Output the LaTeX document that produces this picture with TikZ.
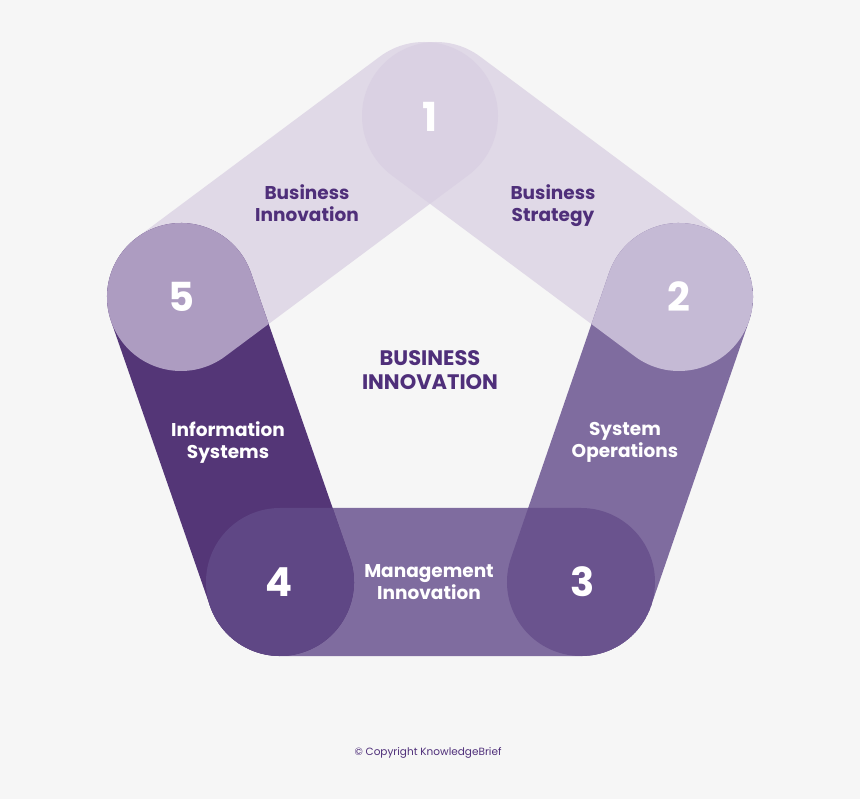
\documentclass[tikz,border=0pt]{standalone}
\usepackage{fontspec}
\setmainfont{Poppins}
\usetikzlibrary{calc}

\definecolor{bgcol}{HTML}{F6F6F6}
\definecolor{lightband}{HTML}{E0D9E7}
\definecolor{midband}{HTML}{7F6C9F}
\definecolor{darkband}{HTML}{543677}
\definecolor{ovone}{HTML}{DAD1E3}
\definecolor{ovtwo}{HTML}{C5BAD5}
\definecolor{ovthree}{HTML}{6A538E}
\definecolor{ovfour}{HTML}{5F4785}
\definecolor{ovfive}{HTML}{AD9CC1}
\definecolor{labcol}{HTML}{4F2F7A}

% half width of a band
\newcommand{\bandr}{74pt}
% closed outline of a band between two centres
\newcommand{\capsule}[2]{let \p1=($(#2)-(#1)$), \n1={atan2(\y1,\x1)} in
  ($(#1)+(\n1+90:\bandr)$) -- ($(#2)+(\n1+90:\bandr)$)
  arc[start angle=\n1+90, delta angle=-180, radius=\bandr]
  -- ($(#1)+(\n1-90:\bandr)$)
  arc[start angle=\n1-90, delta angle=-180, radius=\bandr] -- cycle}

\begin{document}
\begin{tikzpicture}[
        x=1pt, y=-1pt,
        label/.style={align=center, font=\bfseries\fontsize{18.5}{22}\selectfont, text=labcol,
            execute at begin node=\strut, execute at end node=\strut},
        wlabel/.style={label, text=white},
        num/.style={font=\bfseries\fontsize{40}{40}\selectfont, text=white},
        title/.style={align=center, font=\bfseries\fontsize{21}{23.5}\selectfont, text=labcol,
            execute at begin node=\strut, execute at end node=\strut},
        copy/.style={font=\fontsize{10.5}{12}\selectfont, text=labcol}
    ]
        \fill[bgcol] (0,0) rectangle (860,799);
        \useasboundingbox (0,0) rectangle (860,799);

        % Band centres
        \coordinate (v1) at (430,116);
        \coordinate (v1a) at (424,116);
        \coordinate (v1b) at (436,116);
        \coordinate (v2) at (679,297);
        \coordinate (v3) at (581,582);
        \coordinate (v4) at (280,582);
        \coordinate (v5) at (181,297);

        % Bands
        \fill[lightband] \capsule{v1b}{v2};
        \fill[lightband] \capsule{v5}{v1a};
        \fill[midband] \capsule{v2}{v3};
        \fill[midband] \capsule{v3}{v4};
        \fill[darkband] \capsule{v4}{v5};

        % Overlaps
        \begin{scope}
            \clip \capsule{v5}{v1a};
            \fill[ovone] \capsule{v1b}{v2};
        \end{scope}
        \begin{scope}
            \clip \capsule{v1b}{v2};
            \fill[ovtwo] \capsule{v2}{v3};
        \end{scope}
        \begin{scope}
            \clip \capsule{v2}{v3};
            \fill[ovthree] \capsule{v3}{v4};
        \end{scope}
        \begin{scope}
            \clip \capsule{v3}{v4};
            \fill[ovfour] \capsule{v4}{v5};
        \end{scope}
        \begin{scope}
            \clip \capsule{v4}{v5};
            \fill[ovfive] \capsule{v5}{v1a};
        \end{scope}

        % Numbers
        \node[num] (n1) at (430,117) {1};
        \node[num] (n2) at (679,297) {2};
        \node[num] (n3) at (583,582) {3};
        \node[num] (n4) at (279,582) {4};
        \node[num] (n5) at (181,297) {5};

        % Labels
        \node[label] (binno) at (307,206) {Business\\Innovation};
        \node[label] (bstrat) at (553,206) {Business\\Strategy};
        \node[wlabel] (infosys) at (228,443) {Information\\Systems};
        \node[wlabel] (sysops) at (625,443) {System\\Operations};
        \node[wlabel] (mgmt) at (429,585) {Management\\Innovation};
        \node[title] (centre) at (430,373.5) {BUSINESS\\INNOVATION};
        \node[copy] (copyr) at (428,753) {\textcopyright{} Copyright KnowledgeBrief};
    \end{tikzpicture}
\end{document}
